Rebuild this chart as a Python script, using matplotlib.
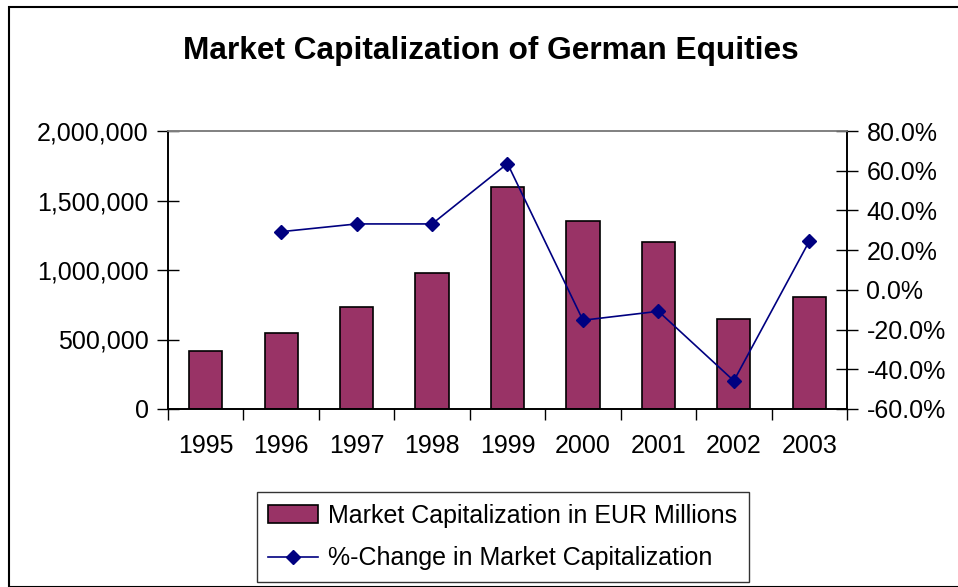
import matplotlib.pyplot as plt
import matplotlib.ticker as mticker
from matplotlib.patches import Rectangle
import numpy as np

plt.rcParams['font.family'] = ['Liberation Sans', 'DejaVu Sans']

# Data
years = ["1995", "1996", "1997", "1998", "1999", "2000", "2001", "2002", "2003"]
market_cap = [418000, 547000, 731000, 975000, 1594000, 1350000, 1204000, 645000, 803000]
pct_change = [None, 0.293, 0.332, 0.332, 0.636, -0.153, -0.108, -0.458, 0.245]

bar_color = "#993366"
line_color = "#000080"
fs = 18

fig = plt.figure(figsize=(9.58, 5.87), dpi=100)
W, H = 958, 587

# chart area border (runs off the right and bottom edges)
fig.patches.append(Rectangle((9 / W, 0), 1.0, 1 - 7 / H, transform=fig.transFigure,
                             fill=False, edgecolor="black", linewidth=1.5,
                             clip_on=False))

left, right, top, bottom = 168, 847, 131, 409
ax = fig.add_axes([left / W, 1 - bottom / H, (right - left) / W, (bottom - top) / H])
ax2 = ax.twinx()

x = np.arange(len(years)) + 0.5
bars = ax.bar(x, market_cap, width=0.44, color=bar_color, edgecolor="black",
              linewidth=1.2, label="Market Capitalization in EUR Millions", zorder=2)

line_x = [xi for xi, p in zip(x, pct_change) if p is not None]
line_y = [p for p in pct_change if p is not None]
line, = ax2.plot(line_x, line_y, color=line_color, linewidth=1.2, marker="D",
                 markersize=7.5, label="%-Change in Market Capitalization", zorder=3)

ax.set_xlim(0, len(years))
ax.set_ylim(0, 2000000)
ax2.set_ylim(-0.6, 0.8)

ax.set_yticks(np.arange(0, 2000001, 500000))
ax.yaxis.set_major_formatter(mticker.FuncFormatter(lambda v, _: f"{v:,.0f}"))
ax2.set_yticks(np.arange(-0.6, 0.81, 0.2))
ax2.yaxis.set_major_formatter(mticker.FuncFormatter(lambda v, _: f"{v * 100:.1f}%"))

# category boundaries as tick marks, labels centred on the bars
ax.set_xticks(np.arange(0, len(years) + 1))
ax.set_xticklabels([])
ax.set_xticks(x, minor=True)
ax.set_xticklabels(years, minor=True)
ax.tick_params(axis="x", which="major", direction="out", length=8, width=1)
ax.tick_params(axis="x", which="minor", length=0, pad=18, labelsize=fs)
ax.tick_params(axis="y", direction="inout", length=16, width=1, pad=6, labelsize=fs)
ax2.tick_params(axis="y", direction="inout", length=16, width=1, pad=6, labelsize=fs)

for a in (ax, ax2):
    a.spines["top"].set_color("#808080")
    a.spines["top"].set_linewidth(1.2)
    for s in ("left", "right", "bottom"):
        a.spines[s].set_color("black")
        a.spines[s].set_linewidth(1.2)
ax.set_zorder(ax2.get_zorder() - 1)
ax2.patch.set_visible(False)

fig.text(0.512, 1 - 51 / H, "Market Capitalization of German Equities",
         ha="center", va="center", fontsize=22.8, fontweight="bold")

leg = fig.legend([bars, line], [bars.get_label(), line.get_label()],
                 loc="center", bbox_to_anchor=(503 / W, 1 - 537 / H),
                 bbox_transform=fig.transFigure, fontsize=fs, frameon=True,
                 fancybox=False, shadow=False, handlelength=2.0,
                 handletextpad=0.4, labelspacing=0.75, borderpad=0.45,
                 borderaxespad=0)
leg.get_frame().set_edgecolor("black")
leg.get_frame().set_linewidth(1.0)

fig.savefig("out.png", dpi=100)
